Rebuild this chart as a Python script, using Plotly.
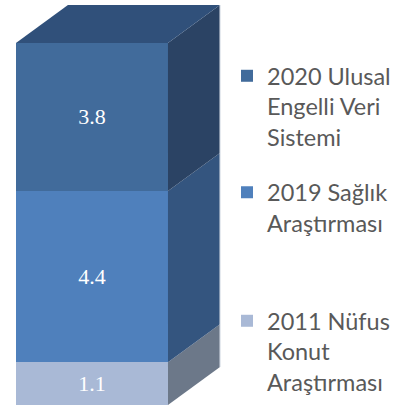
import plotly.graph_objects as go

# ---- data ----
series_names = ["2011 Nüfus Konut Araştırması", "2019 Sağlık Araştırması", "2020 Ulusal Engelli Veri Sistemi"]
legend_labels = ["2011 Nüfus<br>Konut<br>Araştırması", "2019 Sağlık<br>Araştırması", "2020 Ulusal<br>Engelli Veri<br>Sistemi"]
values = [1.1, 4.4, 3.8]
value_labels = ["1.1", "4.4", "3.8"]

# ---- style ----
front_colors = ["#a9b9d6", "#4f80bc", "#416b9b"]
side_colors = ["#6c7889", "#34557f", "#2b4364"]
top_color = "#30507a"
edge_color = "#c8d0dc"
BAR_X = 0.0
BAR_W = 1.0
DX = 0.342   # depth offset (x units)
DY = 0.976   # depth offset (y units)

x0 = BAR_X - BAR_W / 2
x1 = BAR_X + BAR_W / 2

fig = go.Figure()

legend_ids = ["legend3", "legend2", "legend"]
bottoms = []
acc = 0.0
for v in values:
    bottoms.append(acc)
    acc += v
total = acc

# side faces and top face (drawn from cumulative values)
for i, v in enumerate(values):
    b = bottoms[i]
    t = b + v
    fig.add_trace(go.Scatter(
        x=[x1, x1 + DX, x1 + DX, x1, x1],
        y=[b, b + DY, t + DY, t, b],
        mode="lines", fill="toself", fillcolor=side_colors[i],
        line=dict(width=0, color=side_colors[i]),
        hoverinfo="skip", showlegend=False))

fig.add_trace(go.Scatter(
    x=[x0, x1, x1 + DX, x0 + DX, x0],
    y=[total, total, total + DY, total + DY, total],
    mode="lines", fill="toself", fillcolor=top_color,
    line=dict(width=0, color=top_color),
    hoverinfo="skip", showlegend=False))

fig.add_trace(go.Scatter(
    x=[x1 + DX, x1 + DX],
    y=[DY, total + DY],
    mode="lines", line=dict(width=1, color=edge_color),
    hoverinfo="skip", showlegend=False))

# front faces (stacked bars)
for i, v in enumerate(values):
    fig.add_trace(go.Bar(
        x=[BAR_X], y=[v], width=BAR_W,
        name=legend_labels[i],
        marker=dict(color=front_colors[i], line=dict(width=0)),
        text=[value_labels[i]], textposition="inside",
        insidetextanchor="middle", textangle=0,
        textfont=dict(family="Liberation Serif", size=22, color="white"),
        legend=legend_ids[i], hoverinfo="skip"))

leg_common = dict(
    font=dict(family="Lato", size=23.5, color="#595959"),
    bgcolor="rgba(0,0,0,0)", borderwidth=0,
    xanchor="left", yanchor="top", valign="top",
    itemclick=False, itemdoubleclick=False,
)
legend_x = 227 / 401
fig.update_layout(
    barmode="stack",
    width=401, height=410,
    margin=dict(l=0, r=0, t=0, b=0),
    paper_bgcolor="white", plot_bgcolor="white",
    xaxis=dict(range=[-0.605, 2.033], visible=False, fixedrange=True),
    yaxis=dict(range=[-0.128, 10.405], visible=False, fixedrange=True),
    showlegend=True,
    legend=dict(x=legend_x, y=1 - 54 / 410, **leg_common),
    legend2=dict(x=legend_x, y=1 - 170.5 / 410, **leg_common),
    legend3=dict(x=legend_x, y=1 - 299 / 410, **leg_common),
)

fig.write_html("out.html", config={"displayModeBar": False},
               post_script="document.body.style.margin='0';")
